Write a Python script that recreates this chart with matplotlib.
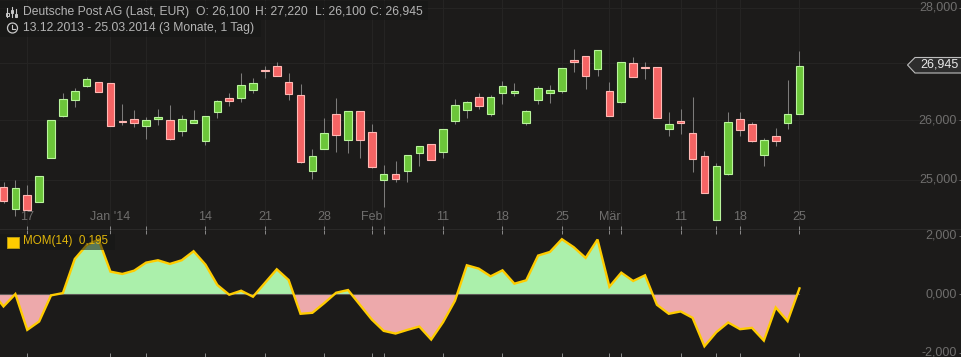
import matplotlib
matplotlib.use('Agg')
import matplotlib.pyplot as plt
import matplotlib.patches as patches
from matplotlib.ticker import NullLocator
from matplotlib.transforms import ScaledTranslation
import numpy as np

plt.rcParams['font.family'] = ['Liberation Sans', 'DejaVu Sans']

opens = [24878, 24520, 24748, 24634, 25357, 26069, 26346, 26591, 26662, 26644, 25990, 26017,
         25898, 26017, 26000, 25812, 25949, 25642, 26138, 26381, 26381, 26521, 26874, 26945,
         26662, 26433, 25142, 25508, 26103, 25659, 26155, 25795, 24993, 25092, 25142, 25441,
         25592, 25457, 25983, 26172, 26398, 26103, 26468, 26468, 25949, 26346, 26468, 26503,
         27052, 27124, 26892, 26503, 26311, 26999, 26927, 26927, 25846, 25983, 25778, 25391,
         24344, 25092, 26017, 25932, 25407, 25727, 25949, 26100]
highs = [24960, 24993, 24911, 25059, 26000, 26468, 26556, 26750, 26662, 26644, 26276, 26172,
         26052, 26189, 26259, 26086, 26172, 26069, 26346, 26468, 26821, 26732, 26945, 27016,
         26821, 26627, 25508, 26034, 26381, 26155, 26155, 25932, 25241, 25307, 25407, 25558,
         25592, 25846, 26363, 26329, 26468, 26433, 26679, 26644, 26172, 26591, 26609, 26910,
         27250, 27124, 27232, 26662, 27016, 27106, 27016, 26927, 26138, 26189, 26398, 25474,
         25274, 26138, 26138, 25966, 25693, 25863, 26697, 27220]
lows = [24618, 24408, 24504, 24634, 25357, 26052, 26224, 26574, 26486, 25898, 25915, 25880,
        25676, 25915, 25659, 25727, 25949, 25575, 26034, 26242, 26311, 26468, 26732, 26768,
        26346, 25274, 25010, 25508, 25457, 25441, 25357, 25191, 24553, 24960, 24960, 25224,
        25324, 25357, 25932, 26034, 26189, 26069, 26276, 26416, 25915, 26276, 26294, 26468,
        26838, 26539, 26768, 26069, 26294, 26750, 26715, 26034, 25727, 25761, 25125, 24780,
        24344, 25076, 25727, 25625, 25224, 25558, 25846, 26100]
closes = [24650, 24862, 24504, 25059, 26000, 26363, 26503, 26715, 26486, 25898, 25975, 25949,
          26000, 26052, 25676, 26017, 26000, 26069, 26329, 26329, 26609, 26644, 26856, 26768,
          26451, 25291, 25391, 25778, 25744, 26155, 25659, 25208, 25092, 25010, 25407, 25558,
          25324, 25846, 26259, 26311, 26242, 26398, 26591, 26503, 26155, 26556, 26521, 26910,
          27016, 26768, 27232, 26069, 27016, 26750, 26910, 26034, 25932, 25949, 25341, 24780,
          25224, 25966, 25829, 25642, 25659, 25642, 26103, 26945]

# one extra leading value, the day just left of the visible window
momentum = [90, -423, 0, -1223, -937, -46, 34, 1200, 1669, 1863, 766, 686, 800, 1074, 1154, 1029,
            1154, 1463, 1006, 309, -23, 114, -91, 377, 846, 480, -674, -640, -309, 46, 137, -366,
            -869, -1257, -1349, -1223, -1109, -1554, -960, -229, 983, 869, 606, 811, 354, 469, 1314,
            1440, 1874, 1600, 1234, 1863, 251, 731, 446, 640, -366, -674, -594, -811, -1783, -1303,
            -971, -1200, -1154, -1589, -457, -926, 195]

date_ticks = [2, 9, 12, 17, 22, 27, 31, 32, 37, 42, 47, 51, 52, 57, 60, 62, 67]
date_labels = ['17', "Jan '14", '', '14', '21', '28', 'Feb', '', '11', '18', '25', 'Mär', '', '11', '', '18', '25']
price_ticks = [25000, 26000, 27000, 28000]
price_labels = ['25,000', '26,000', '27,000', '28,000']
mom_ticks = [-2000, 0, 2000]
mom_labels = ['-2,000', '0,000', '2,000']

BG = '#1c1b1a'
GRID = '#252423'
TICK = '#6f6e6d'
TXT = '#b4b4b4'
W, H, SPLIT = 962, 357, 229.5

fig = plt.figure(figsize=(W / 100, H / 100), dpi=100, facecolor=BG)
ax = fig.add_axes([0, 1 - SPLIT / H, 1, SPLIT / H], facecolor=BG)
ax2 = fig.add_axes([0, 0, 1, 1 - SPLIT / H], facecolor=BG)

idx = np.arange(len(closes))
o, h, l, c = map(np.array, (opens, highs, lows, closes))
up = c >= o
ax.set_yscale('log')
ax.vlines(idx, l, h, color='#7c7b7a', lw=0.75, zorder=2)
ax.bar(idx[up], (c - o)[up], bottom=o[up], width=0.64, color='#6cc63a', edgecolor='#b9f59c', lw=0.8, zorder=3)
ax.bar(idx[~up], (o - c)[~up], bottom=c[~up], width=0.64, color='#f56464', edgecolor='#ffb8b4', lw=0.8, zorder=3)

ax.set_xlim(-0.295, 80.68)
ax.set_ylim(24190, 28148)
ax.yaxis.set_major_locator(plt.FixedLocator(price_ticks))
ax.yaxis.set_minor_locator(NullLocator())
ax.yaxis.set_major_formatter(plt.FixedFormatter(price_labels))
ax.yaxis.tick_right()
ax.set_xticks(date_ticks, date_labels)
ax.grid(True, color=GRID, lw=0.8, zorder=0)
ax.set_axisbelow(True)
ax.tick_params(axis='x', direction='in', length=3, width=0.7, color='#8a8a8a', pad=-13.5,
               labelcolor=TICK, labelsize=9)
ax.tick_params(axis='y', direction='in', length=2.2, width=0.7, color=TICK, pad=-3.5,
               labelcolor=TICK, labelsize=9)

m = np.array(momentum)
mx = np.arange(-1, len(closes))
ax2.fill_between(mx, 0, m, where=m >= 0, interpolate=True, color='#abf0ab', lw=0, zorder=2)
ax2.fill_between(mx, 0, m, where=m <= 0, interpolate=True, color='#eda9ab', lw=0, zorder=2)
ax2.plot([-1, 67], [0, 0], color='#5e5a58', lw=0.8, zorder=3)
ax2.plot(mx, m, color='#ffcc00', lw=1.7, zorder=4, solid_joinstyle='miter')
ax2.set_xlim(-0.295, 80.68)
ax2.set_ylim(-2150, 2205)
ax2.yaxis.tick_right()
ax2.set_yticks(mom_ticks, mom_labels)
ax2.set_xticks(date_ticks, [''] * len(date_ticks))
ax2.tick_params(axis='x', which='both', direction='in', length=3, width=0.7, color='#8a8a8a',
                top=True, bottom=True)
ax2.tick_params(axis='y', direction='in', length=2.2, width=0.7, color=TICK, pad=-3.5,
                labelcolor=TICK, labelsize=9)

# value labels sit inside the plot, right aligned and a touch above their tick
up_shift = ScaledTranslation(0, 1.5 / 100, fig.dpi_scale_trans)
for a in (ax, ax2):
    for lab in a.get_yticklabels():
        lab.set_ha('right')
        lab.set_transform(lab.get_transform() + up_shift)
    for s in a.spines.values():
        s.set_visible(False)
ax.spines['bottom'].set_visible(True)
ax.spines['bottom'].set_color('#8f8f8f')
ax.spines['bottom'].set_linewidth(0.9)

# overlay in pixel coords for header, tag and icons
ov = fig.add_axes([0, 0, 1, 1], facecolor='none')
ov.set_xlim(0, W)
ov.set_ylim(H, 0)
ov.axis('off')

ov.add_patch(patches.Rectangle((0, 1), 428, 19, fc='#161616', ec='none', alpha=0.6))
ov.add_patch(patches.Rectangle((0, 20), 261, 17, fc='#161616', ec='none', alpha=0.6))
ov.add_patch(patches.Rectangle((0, 234), 115, 16, fc='#161616', ec='none', alpha=0.55, zorder=5))

for x, txt in [(23, 'Deutsche Post AG (Last, EUR)'), (196, 'O: 26,100'), (255, 'H: 27,220'),
               (315, 'L: 26,100'), (370, 'C: 26,945')]:
    ov.text(x, 12, txt, color=TXT, fontsize=8.7, va='center', ha='left')
ov.text(23, 28, '13.12.2013 - 25.03.2014 (3 Monate, 1 Tag)', color=TXT, fontsize=8.75, va='center', ha='left')

# candle icon and clock icon
for x, y0, y1, by in [(7.5, 8, 17, 13), (12, 7, 17, 10), (16, 9, 17, 14)]:
    ov.plot([x, x], [y0, y1], color='#c8c8c8', lw=0.8)
    ov.add_patch(patches.Rectangle((x - 1.2, by), 2.4, 2.8, fc='none', ec='#c8c8c8', lw=0.7))
ov.add_patch(patches.Circle((12.5, 28), 5, fc='none', ec='#c8c8c8', lw=0.9))
ov.plot([12.5, 12.5, 15.5], [25, 28.5, 28.5], color='#c8c8c8', lw=0.8)

# last price tag
ov.add_patch(patches.Polygon([(907.5, 65), (915, 57.5), (962, 57.5), (962, 73), (915, 73)],
                             closed=True, fc='#2d2d2d', ec='#bdbdbd', lw=0.8, zorder=6))
ov.text(958.5, 64.5, '26,945', color='#e8e8e8', fontsize=9, va='center', ha='right', zorder=7)

# momentum legend
ov.add_patch(patches.Rectangle((7.5, 236.5), 11.5, 11.5, fc='#ffcc00', ec='#b89a10', lw=0.7, zorder=7))
ov.text(23, 241, 'MOM(14)  0,195', color='#e0b50a', fontsize=8.4, va='center', ha='left', zorder=7)

fig.savefig('out.png', dpi=100, facecolor=BG)
